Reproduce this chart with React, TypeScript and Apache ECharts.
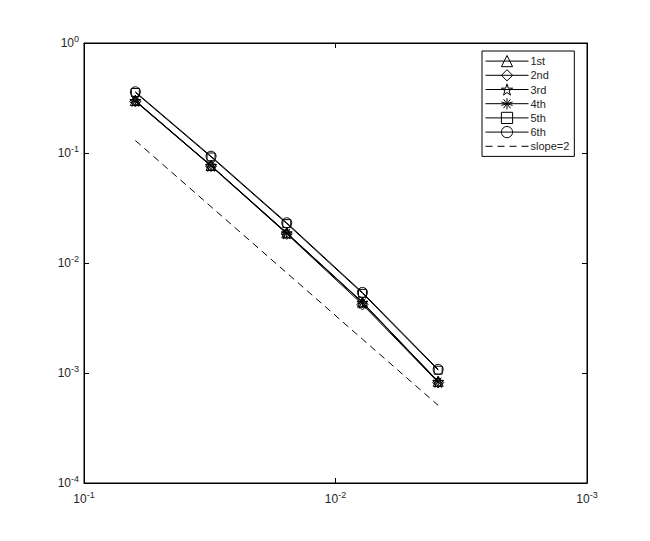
import React, { useEffect, useRef } from "react";
import * as echarts from "echarts";

const hValues = [1 / 16, 1 / 32, 1 / 64, 1 / 128, 1 / 256];
const seriesNames = ["1st", "2nd", "3rd", "4th", "5th", "6th"];
const err1st = [0.3, 0.077, 0.0188, 0.0044, 0.00084];
const err2nd = [0.295, 0.076, 0.0184, 0.0042, 0.00082];
const err3rd = [0.298, 0.0765, 0.0186, 0.00435, 0.00083];
const err4th = [0.297, 0.0768, 0.0187, 0.00438, 0.000835];
const err5th = [0.355, 0.092, 0.0228, 0.0053, 0.00106];
const err6th = [0.36, 0.0935, 0.0232, 0.0054, 0.00108];
const slopeRef = [0.13, 0.0325, 0.008125, 0.00203, 0.000508];
const slopeName = "slope=2";

const STAR =
  "path://M0,-1L0.2245,-0.309L0.951,-0.309L0.363,0.118L0.588,0.809L0,0.382L-0.588,0.809L-0.363,0.118L-0.951,-0.309L-0.2245,-0.309Z";
const ASTER =
  "path://M0,-1L0,1M-0.95,-0.31L0.95,0.31M-0.95,0.31L0.95,-0.31M-0.59,0.81L0.59,-0.81M0.59,0.81L-0.59,-0.81";

export default function App() {
  const ref = useRef<HTMLDivElement>(null);
  useEffect(() => {
    if (!ref.current) return;
    const chart = echarts.init(ref.current, undefined, { renderer: "svg" });
    const font = "Liberation Sans, Arial, sans-serif";
    const txt = "#262626";
    const expLabel = (v: number) => {
      const e = Math.round(Math.log10(v));
      return `{b|10}{s|${e}}`;
    };
    const rich = {
      b: { fontSize: 12, fontFamily: font, color: txt },
      s: { fontSize: 9, fontFamily: font, color: txt, verticalAlign: "bottom", padding: [0, 0, 8, 0] },
    };
    const allData = [err1st, err2nd, err3rd, err4th, err5th, err6th];
    const symbols = ["triangle", "diamond", STAR, ASTER, "rect", "circle"];
    const sizes = [10, 11, 11, 10, 8, 10];
    const series: any[] = allData.map((d, i) => ({
      name: seriesNames[i],
      type: "line",
      data: d.map((y, j) => [hValues[j], y]),
      symbol: symbols[i],
      symbolSize: sizes[i],
      showSymbol: true,
      lineStyle: { color: "#000", width: 1 },
      itemStyle: { color: "rgba(255,255,255,0)", borderColor: "#000", borderWidth: 1 },
      emphasis: { disabled: true },
    }));
    series.push({
      name: slopeName,
      type: "line",
      data: slopeRef.map((y, j) => [hValues[j], y]),
      symbol: "none",
      lineStyle: { color: "#000", width: 1, type: [7, 5] },
      itemStyle: { color: "#000" },
    });
    const tickCommon = { show: true, inside: true, length: 5, lineStyle: { color: "#000" } };
    chart.setOption({
      animation: false,
      backgroundColor: "#fff",
      grid: { left: 84, top: 43, right: 63, bottom: 58, show: true, borderColor: "#000", borderWidth: 1 },
      xAxis: [
        {
          type: "log",
          logBase: 10,
          min: 0.001,
          max: 0.1,
          inverse: true,
          axisLine: { show: true, lineStyle: { color: "#000" } },
          axisTick: tickCommon,
          minorTick: { show: false },
          splitLine: { show: false },
          axisLabel: { formatter: expLabel, rich, margin: 7, color: txt },
        },
        {
          type: "log",
          logBase: 10,
          min: 0.001,
          max: 0.1,
          inverse: true,
          position: "top",
          axisLine: { show: true, lineStyle: { color: "#000" } },
          axisTick: tickCommon,
          splitLine: { show: false },
          axisLabel: { show: false },
        },
      ],
      yAxis: [
        {
          type: "log",
          logBase: 10,
          min: 0.0001,
          max: 1,
          axisLine: { show: true, lineStyle: { color: "#000" } },
          axisTick: tickCommon,
          splitLine: { show: false },
          axisLabel: { formatter: expLabel, rich, margin: 5, color: txt },
        },
        {
          type: "log",
          logBase: 10,
          min: 0.0001,
          max: 1,
          position: "right",
          axisLine: { show: true, lineStyle: { color: "#000" } },
          axisTick: tickCommon,
          splitLine: { show: false },
          axisLabel: { show: false },
        },
      ],
      legend: {
        orient: "vertical",
        left: 482,
        top: 51,
        padding: [4, 5, 4, 3],
        itemWidth: 43,
        itemHeight: 14,
        itemGap: 2,
        backgroundColor: "#fff",
        borderColor: "#000",
        borderWidth: 1,
        borderRadius: 0,
        lineStyle: { width: 1, color: "#000" },
        itemStyle: { borderWidth: 1, borderColor: "#000", color: "rgba(255,255,255,0)" },
        textStyle: { fontSize: 11, fontFamily: font, color: txt, padding: [0, 0, 0, -3] },
        data: [
          ...seriesNames,
          { name: slopeName, itemStyle: { opacity: 0, color: "rgba(0,0,0,0)", borderColor: "rgba(0,0,0,0)" } },
        ],
        selectedMode: false,
      },
      series,
    });
    return () => chart.dispose();
  }, []);
  return <div ref={ref} style={{ position: "fixed", left: 0, top: 0, width: 650, height: 541 }} />;
}
